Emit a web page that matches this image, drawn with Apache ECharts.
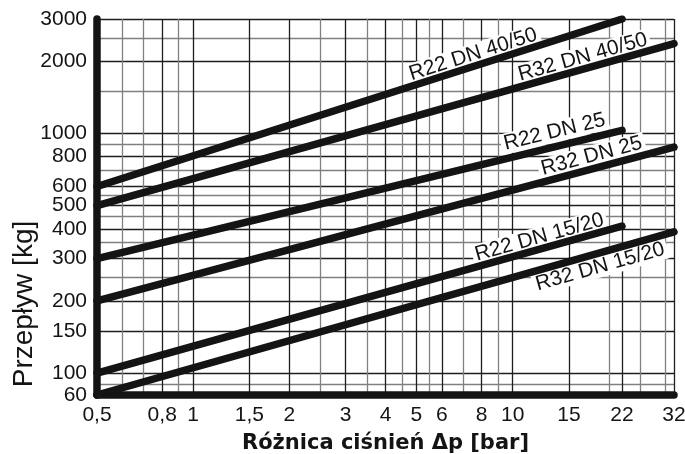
<!DOCTYPE html>
<html><head><meta charset="utf-8">
<script src="https://cdn.jsdelivr.net/npm/echarts@6/dist/echarts.min.js"></script>
<style>html,body{margin:0;padding:0;background:#fff}#c{width:685px;height:454px}</style>
</head><body><div id="c"></div>
<script>
// ---- data ----
const seriesNames = ['R22 DN 40/50', 'R32 DN 40/50', 'R22 DN 25', 'R32 DN 25', 'R22 DN 15/20', 'R32 DN 15/20'];
const r22dn4050 = [[0.5, 600], [22, 3000]];
const r32dn4050 = [[0.5, 500], [32, 2370]];
const r22dn25   = [[0.5, 300], [22, 1030]];
const r32dn25   = [[0.5, 200], [32, 877]];
const r22dn1520 = [[0.5, 100], [22, 410]];
const r32dn1520 = [[0.5, 81],  [32, 388]];
const seriesData = [r22dn4050, r32dn4050, r22dn25, r32dn25, r22dn1520, r32dn1520];

const xLabelValues = [0.5, 0.8, 1, 1.5, 2, 3, 4, 5, 6, 8, 10, 15, 22, 32];
const xGridValues = [0.5, 0.6, 0.7, 0.8, 0.9, 1, 1.5, 2, 2.5, 3, 3.5, 4, 4.5, 5, 5.5, 6, 7, 8, 9, 10, 15, 20, 22, 25, 30, 32];
const yLabelValues = [81, 100, 150, 200, 300, 400, 500, 600, 800, 1000, 2000, 3000];
const yLabelTexts  = ['60', '100', '150', '200', '300', '400', '500', '600', '800', '1000', '2000', '3000'];
const yGridValues = [81, 90, 100, 150, 200, 250, 300, 350, 400, 450, 500, 550, 600, 700, 800, 900, 1000, 1500, 2000, 2500, 3000];
const xMin = 0.5, xMax = 32, yMin = 81, yMax = 3000;

// ---- styles ----
const INK = '#141414';
const FONT = '"Liberation Sans", Arial, sans-serif';
const labelPlacement = [
  { position: 'insideEndTop', distance: [83, 1] },
  { position: 'insideEndTop', distance: [22, 1] },
  { position: 'insideEndTop', distance: [11, 4] },
  { position: 'insideEndTop', distance: [27, 2] },
  { position: 'insideEndTop', distance: [13, 1] },
  { position: 'insideEndBottom', distance: [11, 3] }
];
const gridColor = (vals, major) => vals.map(v => major.indexOf(v) >= 0 ? '#1e1e1e' : '#808080');

const series = [];
seriesData.forEach((d, i) => {
  series.push({
    type: 'line', name: seriesNames[i] + ' label', data: d, symbol: 'none', silent: true, z: 2,
    lineStyle: { width: 0, color: 'rgba(0,0,0,0)' },
    markLine: {
      silent: true, symbol: ['none', 'none'], animation: false,
      lineStyle: { width: 0, type: 'solid', color: 'rgba(0,0,0,0)' },
      label: {
        show: true, formatter: seriesNames[i], position: labelPlacement[i].position,
        distance: labelPlacement[i].distance, fontFamily: FONT, fontSize: 21, color: INK,
        backgroundColor: '#fff', padding: [0, 3]
      },
      emphasis: { disabled: true },
      data: [[{ coord: d[0] }, { coord: d[d.length - 1] }]]
    }
  });
  series.push({
    type: 'line', name: seriesNames[i], data: d, symbol: 'none', silent: true, z: 5,
    lineStyle: { width: 7.5, color: INK, cap: 'round' }
  });
});

const chart = echarts.init(document.getElementById('c'), null, { renderer: 'canvas' });
chart.setOption({
  animation: false,
  backgroundColor: '#fff',
  grid: { left: 97, right: 11, top: 19, bottom: 59, containLabel: false, outerBoundsMode: 'none' },
  xAxis: {
    type: 'log', logBase: 10, min: xMin, max: xMax,
    name: 'Różnica ciśnień Δp [bar]', nameLocation: 'middle', nameGap: 38,
    nameTextStyle: { fontFamily: '"DejaVu Sans", Verdana, sans-serif', fontWeight: 'bold', fontSize: 21, color: INK },
    axisLine: { show: true, onZero: false, lineStyle: { color: INK, width: 7.5, cap: 'round' } },
    axisTick: { show: false, customValues: xGridValues },
    splitLine: { show: true, showMinLine: true, showMaxLine: true, lineStyle: { width: 1.3, color: gridColor(xGridValues, xLabelValues) } },
    axisLabel: {
      customValues: xLabelValues, margin: 10, fontFamily: FONT, fontSize: 21, color: INK,
      formatter: v => String(v).replace('.', ',')
    }
  },
  yAxis: {
    type: 'log', logBase: 10, min: yMin, max: yMax,
    axisLine: { show: true, onZero: false, lineStyle: { color: INK, width: 7.5, cap: 'round' } },
    axisTick: { show: false, customValues: yGridValues },
    splitLine: { show: true, showMinLine: true, showMaxLine: true, lineStyle: { width: 1.3, color: gridColor(yGridValues, yLabelValues) } },
    axisLabel: {
      customValues: yLabelValues, margin: 10, fontFamily: FONT, fontSize: 21, color: INK,
      formatter: v => { const k = yLabelValues.findIndex(x => Math.abs(x - v) < 1e-6); return k >= 0 ? yLabelTexts[k] : ''; }
    }
  },
  graphic: [{
    type: 'text', rotation: Math.PI / 2, x: 24, y: 304,
    style: { text: 'Przepływ [kg]', font: '28px ' + FONT, fill: INK, textAlign: 'center', textVerticalAlign: 'middle' }
  }],
  series: series
});
</script></body></html>
